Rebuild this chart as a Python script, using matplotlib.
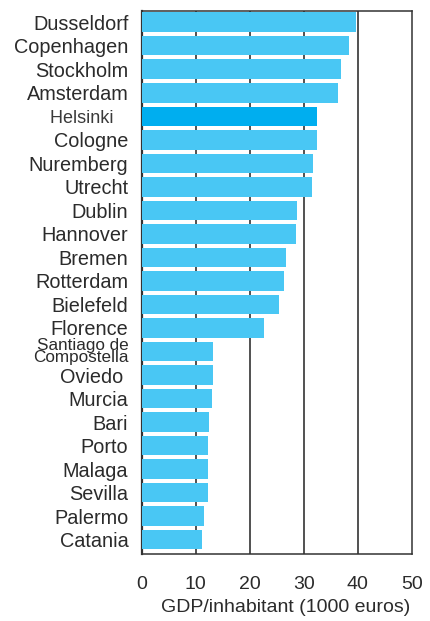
import matplotlib
matplotlib.use("Agg")
import matplotlib.pyplot as plt

plt.rcParams['font.family'] = ['Liberation Sans', 'DejaVu Sans']

cities = ["Dusseldorf", "Copenhagen", "Stockholm", "Amsterdam", "Helsinki", "Cologne",
          "Nuremberg", "Utrecht", "Dublin", "Hannover", "Bremen", "Rotterdam", "Bielefeld",
          "Florence", "Santiago de\nCompostella", "Oviedo", "Murcia", "Bari", "Porto",
          "Malaga", "Sevilla", "Palermo", "Catania"]
gdp = [39.6, 38.4, 36.9, 36.3, 32.4, 32.4, 31.7, 31.5, 28.7, 28.5, 26.8, 26.3, 25.4,
       22.6, 13.3, 13.3, 13.0, 12.5, 12.3, 12.3, 12.3, 11.5, 11.1]
highlight = "Helsinki"
xticks = [0, 10, 20, 30, 40, 50]
xlabel = "GDP/inhabitant (1000 euros)"

light = "#49C7F4"
dark = "#00AEEF"
txt = "#2B2B2B"

fig = plt.figure(figsize=(4.30, 6.21), dpi=100)
ax = fig.add_axes([141.5/430, 1 - 554/621, 270.5/430, 543/621])

ypos = list(range(len(cities)))
colors = [dark if c == highlight else light for c in cities]
ax.barh(ypos, gdp, height=0.83, color=colors, zorder=3)

ax.set_xlim(0, 50)
ax.set_ylim(22.61, -0.476)
ax.set_xticks(xticks)
ax.set_xticklabels([str(v) for v in xticks], fontsize=14, color=txt)
ax.tick_params(axis='x', length=0, pad=16)
for v in xticks[1:-1]:
    ax.axvline(v, color="#222222", lw=1.1, zorder=1)

ax.set_yticks(ypos)
labels = []
for c in cities:
    if c in ("Oviedo",):
        labels.append(c + " ")
    elif c == "Helsinki":
        labels.append(c + "   ")
    else:
        labels.append(c)
ax.set_yticklabels(labels, fontsize=14.3, color=txt)
ax.tick_params(axis='y', length=0, pad=9.5)
for lab, c in zip(ax.get_yticklabels(), cities):
    if c == "Helsinki":
        lab.set_fontsize(13)
        lab.set_color("#3A3A3A")
    if c.startswith("Santiago"):
        lab.set_fontsize(12.3)
        lab.set_linespacing(0.76)

for s in ax.spines.values():
    s.set_color("#333333")
    s.set_linewidth(1.1)
ax.spines['left'].set_linewidth(1.6)

ax.text((285.8 - 141.5) / 270.5, (554 - 608) / 543, xlabel, transform=ax.transAxes,
        ha='center', va='center', fontsize=14, color=txt)

fig.savefig("out.png", dpi=100)
